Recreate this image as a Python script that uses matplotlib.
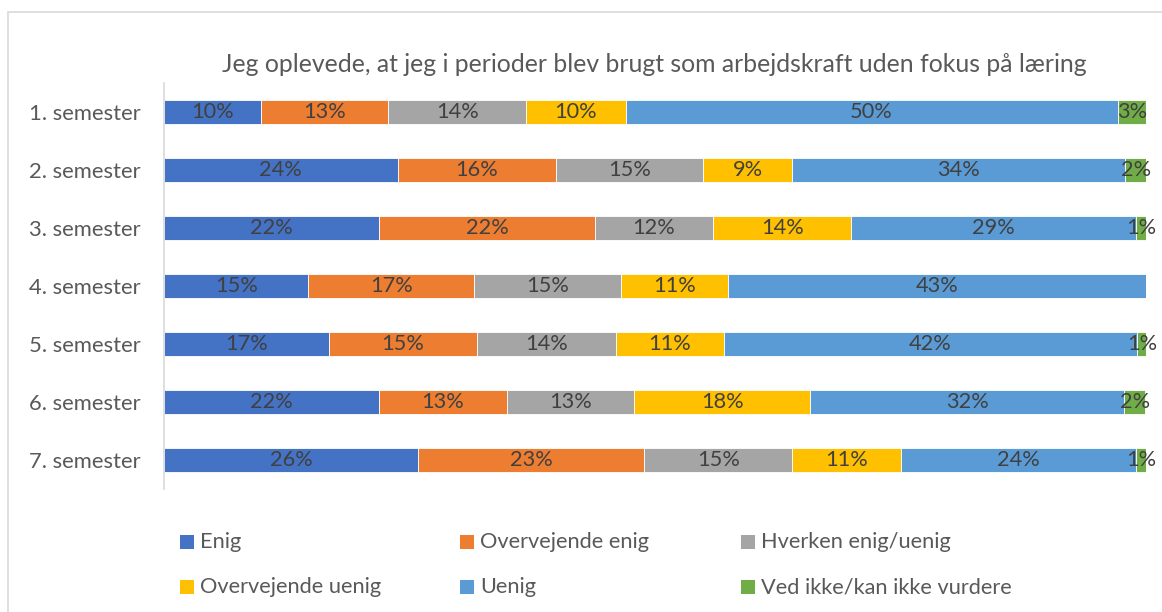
import matplotlib
matplotlib.use('Agg')
import matplotlib.pyplot as plt
from matplotlib.patches import Rectangle

plt.rcParams['font.family'] = ['Lato', 'DejaVu Sans']

# data
semestre = ['1. semester', '2. semester', '3. semester', '4. semester',
            '5. semester', '6. semester', '7. semester']
kategorier = ['Enig', 'Overvejende enig', 'Hverken enig/uenig',
              'Overvejende uenig', 'Uenig', 'Ved ikke/kan ikke vurdere']
enig = [9.9, 23.8, 21.9, 14.7, 16.8, 21.9, 25.9]
overvejende_enig = [12.9, 16.1, 22.0, 16.9, 15.1, 13.0, 23.0]
hverken = [14.1, 15.0, 12.0, 14.9, 14.1, 13.0, 15.1]
overvejende_uenig = [10.1, 9.1, 14.1, 10.9, 11.0, 17.9, 11.1]
uenig = [50.1, 33.9, 29.0, 42.6, 42.1, 32.0, 23.9]
ved_ikke = [2.9, 2.1, 1.0, 0.0, 1.0, 2.1, 1.0]
serier = [enig, overvejende_enig, hverken, overvejende_uenig, uenig, ved_ikke]
farver = ['#4472C4', '#ED7D31', '#A5A5A5', '#FFC000', '#5B9BD5', '#70AD47']

W, H = 1162, 612
fig = plt.figure(figsize=(W / 100, H / 100), dpi=100)

# chart border
fig.patches.append(Rectangle((8 / W, -0.1), 1.2, 1 - 12 / H + 0.1, transform=fig.transFigure,
                             fill=False, edgecolor='#D9D9D9', linewidth=1.2))

ax = fig.add_axes([164 / W, 1 - 489 / H, (1146 - 164) / W, (489 - 83) / H])

y = list(range(len(semestre)))
left = [0.0] * len(semestre)
for navn, vals, farve in zip(kategorier, serier, farver):
    bars = ax.barh(y, vals, left=left, height=0.4, color=farve, edgecolor='white',
                   linewidth=0.6, label=navn)
    for b, v in zip(bars, vals):
        if v > 0:
            ax.text(b.get_x() + b.get_width() / 2, b.get_y() + b.get_height() / 2,
                    f'{v:.0f}%', ha='center', va='center', fontsize=15.7, color='#404040')
    left = [l + v for l, v in zip(left, vals)]

ax.set_xlim(0, 100)
ax.set_ylim(6.5, -0.5)
ax.set_yticks(y)
ax.set_yticklabels(semestre, fontsize=15.8, color='#595959')
ax.tick_params(axis='y', length=0, pad=17)
ax.set_xticks([])
for s in ['top', 'right', 'bottom']:
    ax.spines[s].set_visible(False)
ax.spines['left'].set_color('#D9D9D9')
ax.spines['left'].set_linewidth(1.2)

fig.text(654 / W, 1 - 64 / H, 'Jeg oplevede, at jeg i perioder blev brugt som arbejdskraft uden fokus på læring',
         ha='center', va='center', fontsize=17.8, color='#595959')

# legend
pos_x = [180, 460, 741, 180, 460, 741]
pos_y = [542, 542, 542, 587, 587, 587]
for navn, farve, px, py in zip(kategorier, farver, pos_x, pos_y):
    fig.patches.append(Rectangle((px / W, 1 - (py + 7) / H), 14 / W, 14 / H,
                                 transform=fig.transFigure, facecolor=farve, edgecolor='none'))
    fig.text((px + 20) / W, 1 - py / H, navn, ha='left', va='center', fontsize=15.7, color='#595959')

fig.savefig('out.png', dpi=100)
